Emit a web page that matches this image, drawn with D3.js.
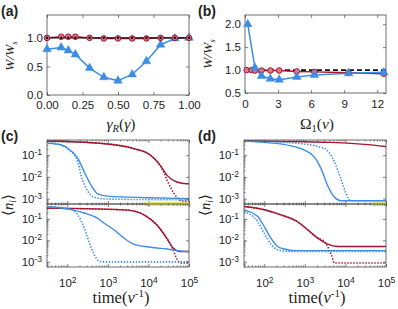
<!DOCTYPE html>
<html>
<head>
<meta charset="utf-8">
<script src="https://cdn.jsdelivr.net/npm/d3@7"></script>
<style>
  body { margin: 0; background: #fff; }
  svg { display: block; }
  text { font-family: "Liberation Sans", Arial, sans-serif; fill: #222; }
  .serif { font-family: "Liberation Serif", "Times New Roman", serif; }
</style>
</head>
<body>
<svg width="398" height="309"></svg>
<script>
// (a) W/Ws against gamma_R
const gammaR = [0, 0.1, 0.15, 0.2, 0.3, 0.4, 0.5, 0.6, 0.7, 0.8, 0.9, 1.0];
const aBlue  = [0.80, 0.83, 0.78, 0.71, 0.47, 0.31, 0.25, 0.36, 0.59, 0.88, 0.99, 1.0];
const aRed   = [1.0, 1.02, 1.02, 1.02, 1.0, 0.99, 0.99, 0.99, 0.99, 1.0, 1.0, 1.0];
const aBlack = [1, 1, 1, 1, 1, 1, 1, 1, 1, 1, 1, 1];
const aTicks = [0, 0.25, 0.5, 0.75, 1.0];
const aYTicks = [0, 0.5, 1.0];

// (b) W/Ws against Omega_1
const omegaBlue = [0.25, 0.9, 1.5, 2.3, 3.1, 4.7, 6.3, 9.4, 12.6];
const bBlue     = [2.0, 1.05, 0.87, 0.81, 0.79, 0.85, 0.89, 0.93, 0.95];
const omegaRed  = [0.15, 0.6, 0.9, 1.5, 2.3, 3.1, 4.7, 6.3, 9.4, 12.6];
const bRed      = [1.0, 1.0, 0.99, 0.99, 0.99, 0.99, 0.97, 0.96, 0.94, 0.92];
const bRef = 1.0;
const bTicks = [0, 3, 6, 9, 12];
const bYTicks = [0.5, 1.0, 1.5, 2.0];

// (c) populations, [time, <n_i>]
const cTopRedSolid = [[32, 0.45], [676, 0.35], [4365, 0.2], [11220, 0.1], [19498, 0.034], [28840, 0.0117], [50119, 0.0058], [87096, 0.0048], [1e5, 0.0048]];
const cTopRedDot   = [[32, 0.45], [676, 0.35], [4365, 0.2], [11220, 0.1], [19498, 0.034], [34674, 0.0034], [50119, 0.00115], [66069, 0.00078], [1e5, 0.00076]];
const cTopBlueSolid = [[34, 0.35], [71, 0.295], [105, 0.204], [182, 0.071], [263, 0.0166], [389, 0.004], [562, 0.00166], [977, 0.0013], [10000, 0.0011], [1e5, 0.001]];
const cTopBlueDot   = [[34, 0.4], [71, 0.3], [105, 0.19], [182, 0.05], [219, 0.0117], [316, 0.0023], [468, 0.00115], [1000, 0.00095], [1e5, 0.00087]];
const cBotRedSolid = [[32, 0.32], [3020, 0.26], [7762, 0.155], [16218, 0.052], [28184, 0.0126], [40738, 0.0044], [60256, 0.003], [1e5, 0.003]];
const cBotRedDot   = [[32, 0.32], [3020, 0.26], [7762, 0.155], [16218, 0.052], [28184, 0.0126], [40738, 0.0035], [52000, 0.0012], [66069, 0.00087], [1e5, 0.00087]];
const cBotBlueSolid = [[34, 0.37], [105, 0.29], [263, 0.19], [562, 0.107], [813, 0.063], [1413, 0.031], [2512, 0.0126], [4365, 0.0066], [11220, 0.0047], [28840, 0.0039], [87096, 0.003], [1e5, 0.003]];
const cBotBlueDot   = [[34, 0.37], [105, 0.32], [182, 0.155], [263, 0.037], [389, 0.0044], [562, 0.0012], [700, 0.00098], [1e5, 0.00098]];
const cBand = [8500, 1e5];

// (d) populations, [time, <n_i>]
const dTopRedSolid  = [[32, 0.45], [4467, 0.39], [29512, 0.316], [1e5, 0.25]];
const dTopBlueSolid = [[32, 0.45], [100, 0.39], [457, 0.27], [977, 0.17], [1700, 0.083], [2512, 0.024], [3631, 0.004], [5370, 0.00115], [7762, 0.00079], [1e5, 0.00079]];
const dTopBlueDot   = [[32, 0.45], [661, 0.35], [3020, 0.204], [5370, 0.049], [7762, 0.0079], [10471, 0.00162], [13804, 0.00079], [1e5, 0.00079]];
const dBotRedSolid  = [[32, 0.38], [100, 0.27], [257, 0.155], [661, 0.074], [1175, 0.031], [2089, 0.0126], [3631, 0.0066], [6457, 0.0051], [1e5, 0.0051]];
const dBotRedDot    = [[32, 0.38], [100, 0.27], [257, 0.155], [661, 0.074], [1175, 0.031], [2089, 0.0126], [3020, 0.0089], [4467, 0.0021], [5370, 0.00087], [1e5, 0.00087]];
const dBotBlueSolid = [[32, 0.26], [69, 0.13], [100, 0.044], [145, 0.0126], [214, 0.0051], [309, 0.0039], [600, 0.0033], [1e5, 0.0033]];
const dBotBlueDot   = [[32, 0.22], [69, 0.074], [100, 0.021], [145, 0.0066], [214, 0.0036], [400, 0.003], [1e5, 0.003]];
const dBand = [47000, 1e5];

const timeTicks = [1e2, 1e3, 1e4, 1e5];
const popTicks = [1e-3, 1e-2, 1e-1];

const RED = "#a2142f";
const BLUE = "#3b8de6";
const FRAME = "#4a4a4a";

const svg = d3.select("svg");

function frame(g, x0, x1, y0, y1) {
    g.append("rect")
        .attr("x", x0).attr("y", y1)
        .attr("width", x1 - x0).attr("height", y0 - y1)
        .attr("fill", "none").attr("stroke", FRAME).attr("stroke-width", 0.8);
}

function styleAxis(sel) {
    sel.select(".domain").remove();
    sel.selectAll(".tick line").attr("stroke", FRAME).attr("stroke-width", 0.7);
    sel.selectAll(".tick text").attr("font-size", 11.5).attr("fill", "#222");
}

function supLabels(sel) {
    sel.selectAll(".tick text").each(function(d) {
        const t = d3.select(this).text(null);
        t.append("tspan").text("10");
        t.append("tspan").attr("dy", "-0.5em").attr("font-size", 8.5).text(Math.round(Math.log10(d)));
    });
}

// linear panels (a), (b)
function linearPanel(opt) {
    const g = svg.append("g");
    const x = d3.scaleLinear().domain(opt.xDomain).range([opt.left, opt.right]);
    const y = d3.scaleLinear().domain(opt.yDomain).range([opt.bottom, opt.top]);

    g.append("g").attr("transform", `translate(0,${opt.bottom})`)
        .call(d3.axisBottom(x).tickValues(opt.xTicks).tickSize(-3).tickPadding(opt.xPad).tickFormat(opt.xFormat))
        .call(styleAxis);
    g.append("g").attr("transform", `translate(0,${opt.top})`)
        .call(d3.axisTop(x).tickValues(opt.xTicks).tickSize(-3).tickFormat(""))
        .call(styleAxis);
    g.append("g").attr("transform", `translate(${opt.left},0)`)
        .call(d3.axisLeft(y).tickValues(opt.yTicks).tickSize(-3).tickPadding(4).tickFormat(d3.format(".1f")))
        .call(styleAxis);
    g.append("g").attr("transform", `translate(${opt.right},0)`)
        .call(d3.axisRight(y).tickValues(opt.yTicks).tickSize(-3).tickFormat(""))
        .call(styleAxis);
    frame(g, opt.left, opt.right, opt.bottom, opt.top);
    return { g, x, y };
}

const pa = linearPanel({
    left: 47, right: 189, top: 15, bottom: 95,
    xDomain: [0, 1], yDomain: [0, 1.4],
    xTicks: aTicks, yTicks: aYTicks, xFormat: d3.format(".2f"), xPad: 6
});
const lineA = d3.line().x((d, i) => pa.x(gammaR[i])).y(d => pa.y(d));
pa.g.append("path").datum(aBlue).attr("d", lineA).attr("fill", "none").attr("stroke", BLUE).attr("stroke-width", 1.5);
pa.g.append("path").datum(aRed).attr("d", lineA).attr("fill", "none").attr("stroke", RED).attr("stroke-width", 1.4);
pa.g.append("path").datum(aBlack).attr("d", lineA).attr("fill", "none").attr("stroke", "#111").attr("stroke-width", 1.2);
pa.g.selectAll(".tri").data(aBlue).enter().append("path")
    .attr("d", d3.symbol(d3.symbolTriangle, 32))
    .attr("transform", (d, i) => `translate(${pa.x(gammaR[i])},${pa.y(d)})`)
    .attr("fill", BLUE).attr("stroke", BLUE).attr("stroke-width", 0.5);
pa.g.selectAll(".circ").data(aRed).enter().append("circle")
    .attr("cx", (d, i) => pa.x(gammaR[i])).attr("cy", d => pa.y(d)).attr("r", 2.8)
    .attr("fill", "#d97a8a").attr("stroke", RED).attr("stroke-width", 1);
pa.g.selectAll(".dot").data(aBlack).enter().append("circle")
    .attr("cx", (d, i) => pa.x(gammaR[i])).attr("cy", d => pa.y(d)).attr("r", 1.3)
    .attr("fill", "#111");

const pb = linearPanel({
    left: 245, right: 386, top: 15, bottom: 93,
    xDomain: [0, 12.8], yDomain: [0.5, 2.2],
    xTicks: bTicks, yTicks: bYTicks, xFormat: d3.format("d"), xPad: 7
});
pb.g.append("line")
    .attr("x1", pb.x(0)).attr("x2", pb.x(12.8)).attr("y1", pb.y(bRef)).attr("y2", pb.y(bRef))
    .attr("stroke", "#111").attr("stroke-width", 1.8).attr("stroke-dasharray", "5,3");
pb.g.append("path").datum(bRed)
    .attr("d", d3.line().x((d, i) => pb.x(omegaRed[i])).y(d => pb.y(d)))
    .attr("fill", "none").attr("stroke", RED).attr("stroke-width", 1.4);
pb.g.append("path").datum(bBlue)
    .attr("d", d3.line().x((d, i) => pb.x(omegaBlue[i])).y(d => pb.y(d)))
    .attr("fill", "none").attr("stroke", BLUE).attr("stroke-width", 1.5);
pb.g.selectAll(".circ").data(bRed).enter().append("circle")
    .attr("cx", (d, i) => pb.x(omegaRed[i])).attr("cy", d => pb.y(d)).attr("r", 2.8)
    .attr("fill", "#d97a8a").attr("stroke", RED).attr("stroke-width", 1);
pb.g.selectAll(".tri").data(bBlue).enter().append("path")
    .attr("d", d3.symbol(d3.symbolTriangle, 32))
    .attr("transform", (d, i) => `translate(${pb.x(omegaBlue[i])},${pb.y(d)})`)
    .attr("fill", BLUE).attr("stroke", BLUE).attr("stroke-width", 0.5);

// log panels (c), (d)
function logSub(g, left, right, top, bottom, showX, curves, band) {
    const x = d3.scaleLog().domain([Math.pow(10, 1.5), 1e5]).range([left, right]);
    const y = d3.scaleLog().domain([Math.pow(10, -3.25), Math.pow(10, -0.3)]).range([bottom, top]);
    const minorX = x.ticks().filter(t => timeTicks.indexOf(t) < 0);
    const minorY = y.ticks().filter(t => popTicks.indexOf(t) < 0);

    if (band) {
        g.append("rect")
            .attr("x", x(band[0])).attr("width", x(band[1]) - x(band[0]))
            .attr("y", top - 2).attr("height", 4)
            .attr("fill", "#e3e35a").attr("opacity", 0.85);
    }

    const line = d3.line().curve(d3.curveMonotoneX).x(d => x(d[0])).y(d => y(d[1]));
    curves.forEach(c => {
        g.append("path").datum(c.data).attr("d", line)
            .attr("fill", "none").attr("stroke", c.color)
            .attr("stroke-width", c.dotted ? 1.6 : 1.4)
            .attr("stroke-dasharray", c.dotted ? "1.4,1.6" : null);
    });

    const xb = g.append("g").attr("transform", `translate(0,${bottom})`)
        .call(d3.axisBottom(x).tickValues(timeTicks).tickSize(-3).tickPadding(12))
        .call(styleAxis);
    if (showX) xb.call(supLabels); else xb.selectAll("text").remove();
    g.append("g").attr("transform", `translate(0,${bottom})`)
        .call(d3.axisBottom(x).tickValues(minorX).tickSize(-1.5).tickFormat(""))
        .call(styleAxis);
    g.append("g").attr("transform", `translate(0,${top})`)
        .call(d3.axisTop(x).tickValues(timeTicks).tickSize(-3).tickFormat(""))
        .call(styleAxis);
    g.append("g").attr("transform", `translate(0,${top})`)
        .call(d3.axisTop(x).tickValues(minorX).tickSize(-1.5).tickFormat(""))
        .call(styleAxis);
    g.append("g").attr("transform", `translate(${left},0)`)
        .call(d3.axisLeft(y).tickValues(popTicks).tickSize(-3).tickPadding(5))
        .call(styleAxis).call(supLabels);
    g.append("g").attr("transform", `translate(${left},0)`)
        .call(d3.axisLeft(y).tickValues(minorY).tickSize(-1.5).tickFormat(""))
        .call(styleAxis);
    g.append("g").attr("transform", `translate(${right},0)`)
        .call(d3.axisRight(y).tickValues(popTicks).tickSize(-3).tickFormat(""))
        .call(styleAxis);
    frame(g, left, right, bottom, top);
}

function logPanel(left, right, top, mid, bottom, upper, lower, band) {
    const g = svg.append("g");
    logSub(g, left, right, top, mid, false, upper, null);
    logSub(g, left, right, mid, bottom, true, lower, band);
}

logPanel(47, 189, 140, 204, 267,
    [{ data: cTopRedSolid, color: RED }, { data: cTopRedDot, color: RED, dotted: true },
     { data: cTopBlueSolid, color: BLUE }, { data: cTopBlueDot, color: BLUE, dotted: true }],
    [{ data: cBotRedSolid, color: RED }, { data: cBotRedDot, color: RED, dotted: true },
     { data: cBotBlueSolid, color: BLUE }, { data: cBotBlueDot, color: BLUE, dotted: true }],
    cBand);

logPanel(244, 386, 140, 204, 267,
    [{ data: dTopRedSolid, color: RED },
     { data: dTopBlueSolid, color: BLUE }, { data: dTopBlueDot, color: BLUE, dotted: true }],
    [{ data: dBotRedSolid, color: RED }, { data: dBotRedDot, color: RED, dotted: true },
     { data: dBotBlueSolid, color: BLUE }, { data: dBotBlueDot, color: BLUE, dotted: true }],
    dBand);

// panel letters
[["(a)", 1, 16], ["(b)", 198, 16], ["(c)", 1, 141], ["(d)", 198, 141]].forEach(p => {
    svg.append("text").attr("x", p[1]).attr("y", p[2])
        .attr("font-size", 14).attr("font-weight", "bold").text(p[0]);
});

// axis titles
function wLabel(cx, cy) {
    const t = svg.append("text").attr("class", "serif")
        .attr("transform", `translate(${cx},${cy}) rotate(-90)`)
        .attr("text-anchor", "middle").attr("font-size", 13.5).attr("font-style", "italic");
    t.append("tspan").text("W/W");
    t.append("tspan").attr("dy", 3).attr("font-size", 9).text("s");
}
wLabel(14, 56);
wLabel(212, 54);

function nLabel(cx, cy) {
    const t = svg.append("text").attr("class", "serif")
        .attr("transform", `translate(${cx},${cy}) rotate(-90)`)
        .attr("text-anchor", "middle").attr("font-size", 14.5);
    t.append("tspan").text("\u27E8");
    t.append("tspan").attr("font-style", "italic").text("n");
    t.append("tspan").attr("dy", 3).attr("font-size", 9.5).attr("font-style", "italic").text("i");
    t.append("tspan").attr("dy", -3).text("\u27E9");
}
nLabel(13, 205);
nLabel(210, 205);

const xa = svg.append("text").attr("class", "serif").attr("x", 121).attr("y", 129)
    .attr("text-anchor", "middle").attr("font-size", 15.5);
xa.append("tspan").attr("font-style", "italic").text("\u03B3");
xa.append("tspan").attr("dy", 3).attr("font-size", 10.5).attr("font-style", "italic").text("R");
xa.append("tspan").attr("dy", -3).text("(");
xa.append("tspan").attr("font-style", "italic").text("\u03B3");
xa.append("tspan").text(")");

const xbl = svg.append("text").attr("class", "serif").attr("x", 317).attr("y", 129)
    .attr("text-anchor", "middle").attr("font-size", 15.5);
xbl.append("tspan").text("\u03A9");
xbl.append("tspan").attr("dy", 3).attr("font-size", 10.5).text("1");
xbl.append("tspan").attr("dy", -3).text("(");
xbl.append("tspan").attr("font-style", "italic").text("\u03BD");
xbl.append("tspan").text(")");

[121, 317].forEach(cx => {
    const t = svg.append("text").attr("class", "serif").attr("x", cx).attr("y", 303)
        .attr("text-anchor", "middle").attr("font-size", 16.5);
    t.append("tspan").text("time(");
    t.append("tspan").attr("font-style", "italic").text("\u03BD");
    t.append("tspan").attr("dy", -6).attr("font-size", 11).text("-1");
    t.append("tspan").attr("dy", 6).text(")");
});
</script>
</body>
</html>
